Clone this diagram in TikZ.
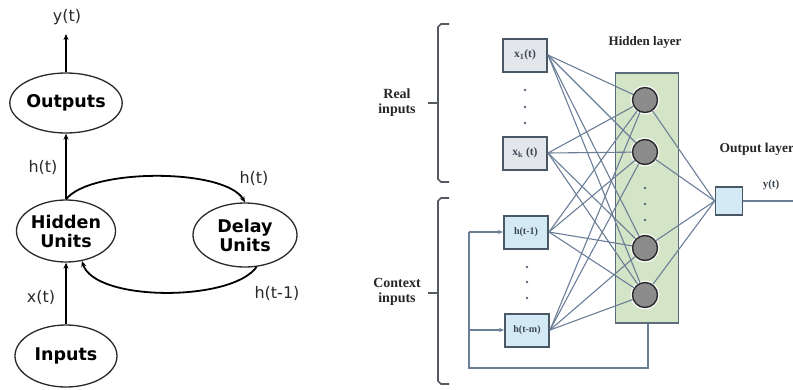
\documentclass[tikz,border=0pt]{standalone}
\usepackage{fontspec}
\setmainfont{Liberation Serif}
\newfontfamily\dvs{DejaVu Sans}
\usetikzlibrary{arrows.meta,shapes.geometric}
\definecolor{ellc}{HTML}{2A2A2A}
\definecolor{netl}{HTML}{6C7F98}
\definecolor{boxb}{HTML}{4A5866}
\definecolor{xfill}{HTML}{E3E7EC}
\definecolor{hfill}{HTML}{D3EAF5}
\definecolor{gfill}{HTML}{D4E4C6}
\definecolor{gborder}{HTML}{5C6C7A}
\definecolor{cfill}{HTML}{8C8C8C}
\definecolor{brk}{HTML}{555A60}
\begin{document}
\begin{tikzpicture}[x=1pt,y=-1pt,
  ell/.style={draw=ellc, line width=1.3pt, ellipse, inner sep=0pt, align=center,
    font=\dvs\bfseries\fontsize{17.5}{19}\selectfont},
  lbl/.style={font=\dvs\fontsize{16}{18}\selectfont, text=ellc},
  arr/.style={draw=black, line width=1.8pt, -{Stealth[length=6pt,width=5pt]}},
  xbox/.style={draw=boxb, line width=2pt, fill=xfill, minimum width=44pt, minimum height=33pt,
    inner sep=0pt, font=\bfseries\fontsize{11.5}{12}\selectfont, text=boxb!80!black},
  hbox/.style={xbox, fill=hfill, font=\bfseries\fontsize{10}{11}\selectfont},
  neuron/.style={circle, draw=ellc, line width=1.4pt, fill=cfill, minimum size=25pt, inner sep=0pt,
    preaction={draw=white, line width=4pt}},
  wire/.style={draw=netl, line width=1.1pt},
  fline/.style={draw=netl, line width=1.3pt},
  farr/.style={fline, -{Stealth[length=5pt,width=4pt]}},
  dot/.style={circle, fill=netl!80!black, minimum size=2.8pt, inner sep=0pt},
  rlbl/.style={font=\bfseries\fontsize{14}{15}\selectfont, align=center, text=black!85},
  brace/.style={draw=brk, line width=1.6pt}
]
\useasboundingbox (0,0) rectangle (793,389);
\fill[white] (0,0) rectangle (793,389);

% ---------------- left diagram ----------------
\node[ell, minimum width=98pt, minimum height=60pt] (out) at (66,103) {Outputs};
\node[ell, minimum width=96pt, minimum height=62pt] (hid) at (66,231) {Hidden\\Units};
\node[ell, minimum width=104pt, minimum height=64pt] (del) at (245,235) {Delay\\Units};
\node[ell, minimum width=102pt, minimum height=62pt] (inp) at (66,356) {Inputs};
\coordinate (ytop) at (66,34);
\node[lbl] (ylab) at (67,17) {y(t)};
\node[lbl] (hlab) at (43,167) {h(t)};
\node[lbl] (xlab) at (41,297) {x(t)};
\node[lbl] (hrlab) at (254,178) {h(t)};
\node[lbl] (hmlab) at (277,293) {h(t-1)};

\draw[arr] (out.north) -- (ytop);
\draw[arr] (hid.north) -- (out.south);
\draw[arr] (inp.north) -- (hid.south);
\draw[arr] (hid.north) .. controls (90,168) and (225,168) .. (del.north);
\draw[arr] (del.-70) .. controls (232,302) and (95,302) .. (hid.-62);

% ---------------- right diagram ----------------
% braces
\draw[brace] (449,24) -- (441,24) -- (438,27) -- (438,179) -- (441,182) -- (449,182);
\draw[brace] (438,103) -- (428,103);
\draw[brace] (449,198) -- (441,198) -- (438,201) -- (438,381) -- (441,384) -- (449,384);
\draw[brace] (438,293) -- (428,293);
\node[rlbl] (real) at (397,103) {Real\\inputs};
\node[rlbl] (ctx) at (397,292) {Context\\inputs};

% hidden layer box
\node[draw=gborder, line width=1.4pt, fill=gfill, minimum width=63pt, minimum height=250pt, inner sep=0pt] (hl) at (647,198) {};
\node[rlbl, font=\bfseries\fontsize{13}{14}\selectfont] (hltxt) at (645,42) {Hidden layer};
\node[rlbl, anchor=west, font=\bfseries\fontsize{13.5}{14}\selectfont] (oltxt) at (716,149) {Output layer};

% neurons
\node[neuron] (c1) at (645,100) {};
\node[neuron] (c2) at (645,152) {};
\node[neuron] (c3) at (645,248) {};
\node[neuron] (c4) at (645,295) {};
\node[dot] at (645,188) {};
\node[dot] at (645,204) {};
\node[dot] at (645,220) {};

% input boxes
\node[xbox] (x1) at (525,55) {x\textsubscript{1}(t)};
\node[xbox] (xk) at (525,153) {x\textsubscript{k} (t)};
\node[hbox] (h1) at (526,232) {h(t-1)};
\node[hbox] (hm) at (527,330) {h(t-m)};
\node[dot] at (525,90) {};
\node[dot] at (525,107) {};
\node[dot] at (525,123) {};
\node[dot] at (527,267) {};
\node[dot] at (527,282) {};
\node[dot] at (527,298) {};

% output node
\node[draw=boxb, line width=1.6pt, fill=hfill, minimum width=27pt, minimum height=28pt, inner sep=0pt] (os) at (729,201) {};
\node[font=\bfseries\fontsize{11}{12}\selectfont, text=boxb!80!black] (ylr) at (771,185) {y(t)};
\coordinate (yend) at (795,201);

% connections
\foreach \s in {x1,xk,h1,hm}{
  \foreach \t in {c1,c2,c3,c4}{
    \draw[wire] (\s.east) -- (\t);
  }
}
\foreach \t in {c1,c2,c3,c4}{
  \draw[wire] (\t) -- (os.west);
}
\draw[fline] (os.east) -- (yend);

% feedback
\coordinate (fb1) at (648,368);
\coordinate (fb2) at (469,368);
\draw[fline] (hl.south -| fb1) -- (fb1) -- (fb2) -- (fb2 |- h1.west);
\draw[farr] (fb2 |- h1.west) -- (h1.west);
\draw[farr] (fb2 |- hm.west) -- (hm.west);
\end{tikzpicture}
\end{document}
